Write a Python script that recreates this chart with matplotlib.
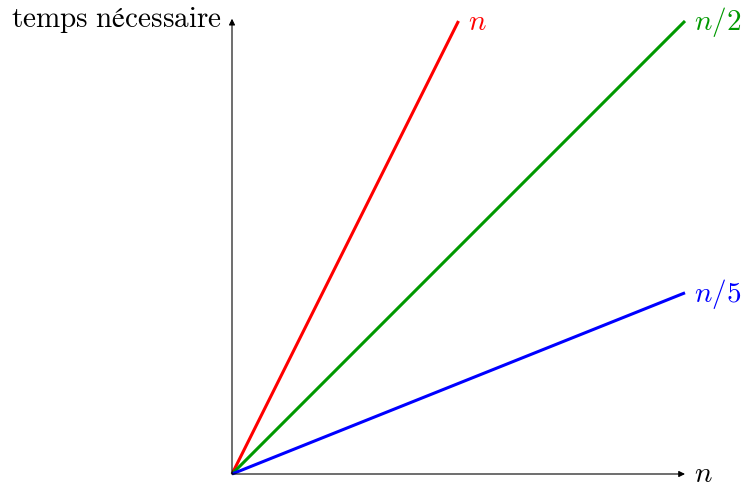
import matplotlib
matplotlib.use('Agg')
import matplotlib.pyplot as plt
import numpy as np

plt.rcParams['mathtext.fontset'] = 'cm'
plt.rcParams['mathtext.fallback'] = 'stix'

# pentes des trois droites (temps nécessaire en fonction de n)
labels = [r'$n$', r'$n/2$', r'$n/5$']
slopes = [2.0, 1.0, 0.4]
colors = ['#ff0000', '#009900', '#0000ff']
xmax = 1.0
ymax = 1.0

fig = plt.figure(figsize=(7.44, 4.85), dpi=100)
W, H = 744, 485
ox, oy = 232, 475
size = 453
ax = fig.add_axes([ox / W, (H - oy) / H, size / W, size / H])
ax.set_xlim(0, xmax)
ax.set_ylim(0, ymax)
ax.axis('off')

fs = 21
for lab, s, c in zip(labels, slopes, colors):
    xe = min(xmax, ymax / s)
    x = np.array([0, xe])
    ax.plot(x, s * x, color=c, lw=2.2, solid_capstyle='butt', clip_on=False, zorder=3)
    ax.text(xe + 0.02, s * xe, lab, color=c, fontsize=fs, va='center', ha='left')

# axes avec flèches
arrow = dict(arrowstyle='-|>', color='black', lw=0.8, mutation_scale=9, shrinkA=0, shrinkB=0)
ax.annotate('', xy=(1.0, 0), xytext=(0, 0), arrowprops=arrow, annotation_clip=False)
ax.annotate('', xy=(0, 1.005), xytext=(0, 0), arrowprops=arrow, annotation_clip=False)
ax.text(1.02, -0.015, r'$n$', fontsize=fs, va='baseline', ha='left')
ax.text(-0.022, 1.005, r'$\mathrm{temps\ nécessaire}$', fontsize=fs, va='center', ha='right')

fig.savefig('out.png', dpi=100)
